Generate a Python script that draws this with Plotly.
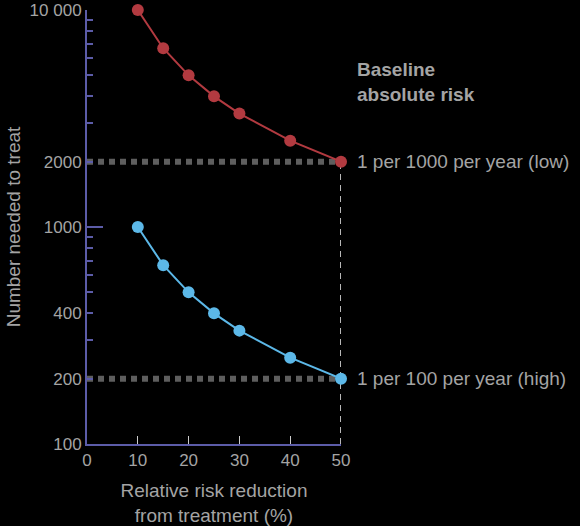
import math
import plotly.graph_objects as go

# relative risk reduction (%) and number needed to treat
rrr = [10, 15, 20, 25, 30, 40, 50]
nnt_low = [10000, 6667, 5000, 4000, 3333, 2500, 2000]   # 1 per 1000 per year
nnt_high = [1000, 667, 500, 400, 333, 250, 200]         # 1 per 100 per year

y_ticks = [100, 200, 400, 1000, 2000, 10000]
y_ticktext = ["100", "200", "400", "1000", "2000", "10 000"]
y_major = [100, 1000, 10000]
y_minor = [v * m for m in (100, 1000) for v in range(2, 10)]
x_ticks = [0, 10, 20, 30, 40, 50]

RED = "#b23a40"
BLUE = "#5cb8e8"
AXIS = "#5c5ca8"
font = dict(family="Liberation Sans, Arial, sans-serif", size=19, color="#a4a4a4")
tick_font = dict(font, size=17)

fig = go.Figure()

# dotted guide lines to the 50% points
for nnt in (nnt_low, nnt_high):
    fig.add_trace(go.Scatter(x=[x_ticks[0], rrr[-1]], y=[nnt[-1], nnt[-1]], mode="lines",
                             line=dict(color="#5e5e5e", width=6, dash="6px,5px"), hoverinfo="skip"))
fig.add_trace(go.Scatter(x=[rrr[-1], rrr[-1]], y=[y_ticks[0], nnt_low[-1]], mode="lines",
                         line=dict(color="#b8b8b8", width=2, dash="6px,5px"), hoverinfo="skip"))

fig.add_trace(go.Scatter(x=rrr, y=nnt_low, mode="lines+markers", cliponaxis=False,
                         line=dict(color=RED, width=2), marker=dict(color=RED, size=12)))
fig.add_trace(go.Scatter(x=rrr, y=nnt_high, mode="lines+markers", cliponaxis=False,
                         line=dict(color=BLUE, width=2), marker=dict(color=BLUE, size=12)))

# long ticks at the decades
fig.add_trace(go.Scatter(x=[None], y=[None], yaxis="y2", showlegend=False))

fig.add_annotation(x=1, xref="paper", xanchor="left", xshift=14, y=math.log10(nnt_low[-1]), yref="y",
                   text="1 per 1000 per year (low)", showarrow=False, font=font)
fig.add_annotation(x=1, xref="paper", xanchor="left", xshift=14, y=math.log10(nnt_high[-1]), yref="y",
                   text="1 per 100 per year (high)", showarrow=False, font=font)
fig.add_annotation(x=1, xref="paper", xanchor="left", xshift=14, y=0.835, yref="paper",
                   yanchor="middle", align="left",
                   text="<b>Baseline<br>absolute risk</b>", showarrow=False, font=font)

fig.update_layout(
    width=580, height=526,
    margin=dict(l=87, r=239, t=10, b=82),
    paper_bgcolor="black", plot_bgcolor="black",
    showlegend=False, font=font,
    xaxis=dict(range=[0, 50], tickvals=x_ticks, ticks="inside", ticklen=8, tickcolor="#cccccc",
               showgrid=False, zeroline=False, showline=True, linecolor=AXIS, linewidth=2,
               tickfont=tick_font, automargin=False,
               title=dict(text="Relative risk reduction<br>from treatment (%)", font=font, standoff=16)),
    yaxis=dict(type="log", range=[2, 4], tickvals=y_ticks, ticktext=y_ticktext,
               ticks="inside", ticklen=6, tickcolor=AXIS, tickwidth=2,
               minor=dict(tickvals=y_minor, ticks="inside", ticklen=6, tickcolor=AXIS, tickwidth=2),
               showgrid=False, zeroline=False, showline=True, linecolor=AXIS, linewidth=2,
               tickfont=tick_font, automargin=False,
               title=dict(text="Number needed to treat", font=font, standoff=4)),
    yaxis2=dict(type="log", range=[2, 4], overlaying="y", side="left", tickvals=y_major,
                showticklabels=False, ticks="inside", ticklen=16, tickcolor=AXIS, tickwidth=2,
                showgrid=False, zeroline=False, showline=False, automargin=False),
)

fig.write_html("out.html", config={"displayModeBar": False},
               post_script="document.body.style.margin='0';")
